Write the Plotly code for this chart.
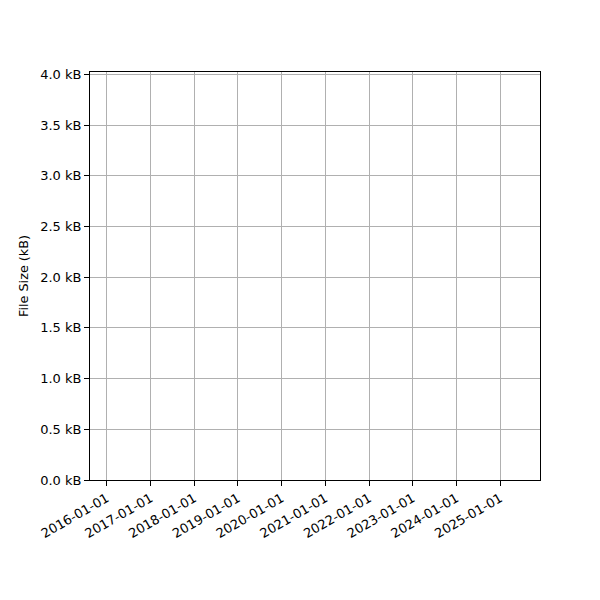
import plotly.graph_objects as go

# no data points in the reference, only the empty axes
dates = []
sizes_kb = []

x_ticks = ["2016-01-01", "2017-01-01", "2018-01-01", "2019-01-01", "2020-01-01",
           "2021-01-01", "2022-01-01", "2023-01-01", "2024-01-01", "2025-01-01"]
y_ticks = [0.0, 0.5, 1.0, 1.5, 2.0, 2.5, 3.0, 3.5, 4.0]
y_labels = ["%.1f kB" % v for v in y_ticks]

fig = go.Figure()
fig.add_trace(go.Scatter(x=dates, y=sizes_kb, mode="lines", line=dict(color="#1f77b4")))

# page body adds ~8px, so margins are shifted to keep the axes box at 90..540 / 72..480
fig.update_layout(
    width=600,
    height=600,
    paper_bgcolor="white",
    plot_bgcolor="white",
    showlegend=False,
    font=dict(family="DejaVu Sans", size=13, color="black"),
    margin=dict(l=82, r=68, t=64, b=128),
    xaxis=dict(
        type="date",
        range=["2015-08-14", "2025-11-29"],
        tickvals=x_ticks,
        ticktext=x_ticks,
        tickangle=-30,
        automargin=False,
        showgrid=True,
        gridcolor="#b0b0b0",
        gridwidth=1,
        showline=True,
        linecolor="black",
        linewidth=1,
        mirror=True,
        ticks="outside",
        ticklen=5,
        tickcolor="black",
        zeroline=False,
    ),
    yaxis=dict(
        range=[0, 4.023],
        tickvals=y_ticks,
        ticktext=y_labels,
        automargin=False,
        title=dict(text="File Size (kB)", standoff=8, font=dict(size=12.8)),
        showgrid=True,
        gridcolor="#b0b0b0",
        gridwidth=1,
        showline=True,
        linecolor="black",
        linewidth=1,
        mirror=True,
        ticks="outside",
        ticklen=5,
        tickcolor="black",
        zeroline=False,
    ),
)

fig.write_html("out.html")
